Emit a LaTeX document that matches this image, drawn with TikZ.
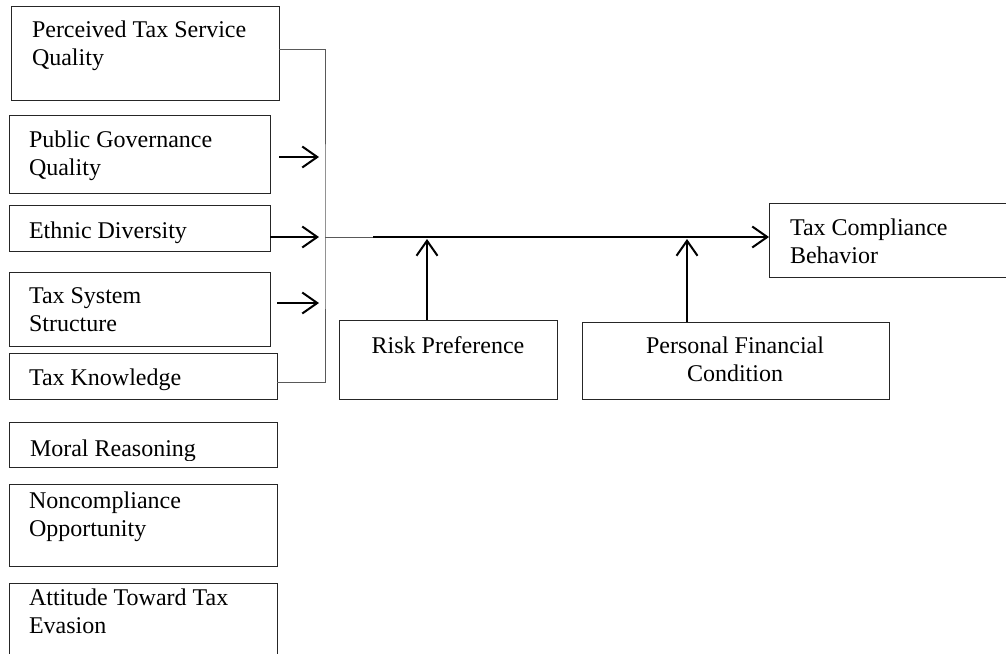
\documentclass[tikz,border=0pt]{standalone}
\usepackage{fontspec}
\setmainfont{Liberation Serif}
\usetikzlibrary{arrows.meta}
\tikzset{
  box/.style={draw=black!85, line width=1pt, inner sep=0pt, outer sep=0pt, anchor=north west, rectangle},
  lbl/.style={inner sep=0pt, outer sep=0pt, align=left, anchor=base west, font=\fontsize{24}{27.5}\selectfont},
  clbl/.style={inner sep=0pt, outer sep=0pt, align=center, anchor=base, font=\fontsize{24}{28}\selectfont},
  thin line/.style={draw=black!65, line width=1pt},
  arr/.style={draw=black, line width=2pt, -{Straight Barb[length=15pt,width=21pt,line width=2pt]}},
}
\begin{document}
\begin{tikzpicture}[x=1pt,y=-1pt]
\clip (0,0) rectangle (1006,653);
\fill[white] (0,0) rectangle (1006,653);
% boxes
\node[box, minimum width=268pt, minimum height=94pt] (b1) at (11,6) {};
\node[box, minimum width=261pt, minimum height=78pt] (b2) at (9,115) {};
\node[box, minimum width=261pt, minimum height=46pt] (b3) at (9,205) {};
\node[box, minimum width=261pt, minimum height=74pt] (b4) at (9,272) {};
\node[box, minimum width=268pt, minimum height=46pt] (b5) at (9,353) {};
\node[box, minimum width=268pt, minimum height=45pt] (b6) at (9,422) {};
\node[box, minimum width=268pt, minimum height=82pt] (b7) at (9,484) {};
\node[box, minimum width=268pt, minimum height=90pt] (b8) at (9,583) {};
\node[box, minimum width=218pt, minimum height=79pt] (rp) at (339,320) {};
\node[box, minimum width=307pt, minimum height=77pt] (pf) at (582,322) {};
\node[box, minimum width=245pt, minimum height=74pt] (tc) at (769,203) {};
% texts (multi-line nodes: base = last line)
\node[lbl] (t1) at (32,65) {Perceived Tax Service\\Quality};
\node[lbl] (t2) at (29,175) {Public Governance\\Quality};
\node[lbl] (t3) at (29,238) {Ethnic Diversity};
\node[lbl] (t4) at (29,331) {Tax System\\Structure};
\node[lbl] (t5) at (29,385) {Tax Knowledge};
\begin{scope}
\clip (9,422) rectangle (277,460);
\node[lbl] (t6) at (30,456) {Moral Reasoning};
\end{scope}
\node[lbl] (t7) at (29,536) {Noncompliance\\Opportunity};
\node[lbl] (t8) at (29,633) {Attitude Toward Tax\\Evasion};
\node[clbl] (trp) at (448,353) {Risk Preference};
\node[clbl] (tpf) at (735,381) {Personal Financial\\Condition};
\node[lbl] (ttc) at (790,263) {Tax Compliance\\Behavior};
% connectors
\coordinate (J) at (325,237);
\coordinate (K) at (373,237);
\coordinate (a2) at (319,157);
\coordinate (a3) at (319,237);
\coordinate (a4) at (319,303);
\coordinate (rpTip) at (427,239);
\coordinate (pfTip) at (687,239);
\draw[thin line] ([yshift=4pt]b1.east) -| (J) |- ([yshift=-6pt]b5.east);
\draw[thin line] (J) -- (K);
\draw[arr] (K) -- (tc.west |- K);
\draw[arr] ([xshift=9pt]b2.east |- a2) -- (a2);
\draw[arr] (b3.east |- a3) -- (a3);
\draw[arr] ([xshift=7pt]b4.east |- a4) -- (a4);
\draw[arr] (rp.north -| rpTip) -- (rpTip);
\draw[arr] (pf.north -| pfTip) -- (pfTip);
\end{tikzpicture}
\end{document}
